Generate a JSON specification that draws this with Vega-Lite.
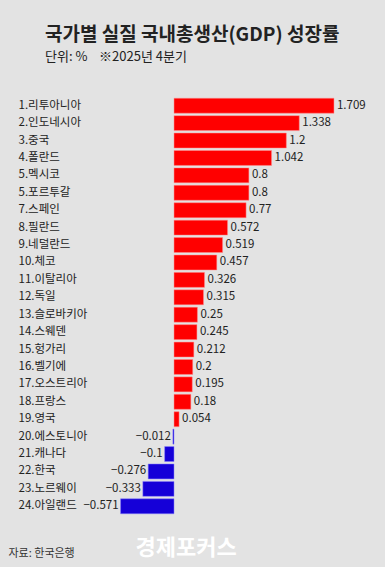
{
  "$schema": "https://vega.github.io/schema/vega-lite/v6.json",
  "width": 385,
  "height": 418,
  "autosize": "none",
  "padding": {"left": 0, "top": 97, "right": 0, "bottom": 52},
  "background": "#e3e3e3",
  "config": {
    "view": {"stroke": null},
    "font": "Noto Sans CJK KR"
  },
  "title": {
    "text": "국가별 실질 국내총생산(GDP) 성장률",
    "subtitle": "단위: %\u00a0\u00a0\u00a0\u00a0※2025년 4분기",
    "anchor": "start",
    "frame": "group",
    "dx": 45,
    "offset": 33,
    "font": "Noto Sans CJK KR",
    "fontSize": 19,
    "fontWeight": "bold",
    "color": "#222222",
    "subtitleFont": "Noto Sans CJK KR",
    "subtitleFontSize": 13,
    "subtitleColor": "#222222",
    "subtitlePadding": 6
  },
  "data": {
    "values": [
      {"country": "1.리투아니아", "value": 1.709},
      {"country": "2.인도네시아", "value": 1.338},
      {"country": "3.중국", "value": 1.2},
      {"country": "4.폴란드", "value": 1.042},
      {"country": "5.멕시코", "value": 0.8},
      {"country": "5.포르투갈", "value": 0.8},
      {"country": "7.스페인", "value": 0.77},
      {"country": "8.필란드", "value": 0.572},
      {"country": "9.네덜란드", "value": 0.519},
      {"country": "10.체코", "value": 0.457},
      {"country": "11.이탈리아", "value": 0.326},
      {"country": "12.독일", "value": 0.315},
      {"country": "13.슬로바키아", "value": 0.25},
      {"country": "14.스웨덴", "value": 0.245},
      {"country": "15.헝가리", "value": 0.212},
      {"country": "16.벨기에", "value": 0.2},
      {"country": "17.오스트리아", "value": 0.195},
      {"country": "18.프랑스", "value": 0.18},
      {"country": "19.영국", "value": 0.054},
      {"country": "20.에스토니아", "value": -0.012},
      {"country": "21.캐나다", "value": -0.1},
      {"country": "22.한국", "value": -0.276},
      {"country": "23.노르웨이", "value": -0.333},
      {"country": "24.아일랜드", "value": -0.571}
    ]
  },
  "encoding": {
    "y": {
      "field": "country",
      "type": "nominal",
      "sort": null,
      "scale": {"paddingInner": 0.14, "paddingOuter": 0.07},
      "axis": {
        "orient": "left",
        "offset": -18,
        "domain": false,
        "ticks": false,
        "grid": false,
        "labelAlign": "left",
        "labelPadding": 0,
        "labelFontSize": 11.5,
        "labelColor": "#222222",
        "labelFont": "Noto Sans CJK KR",
        "title": "경제포커스",
        "titleAngle": 0,
        "titleX": 117,
        "titleY": 450,
        "titleAlign": "left",
        "titleBaseline": "middle",
        "titleFontSize": 22,
        "titleFontWeight": "bold",
        "titleColor": "#ffffff",
        "titleFont": "Noto Sans CJK KR"
      }
    },
    "x": {
      "field": "value",
      "type": "quantitative",
      "scale": {"domain": [-1.859, 2.254], "nice": false, "zero": false},
      "axis": {
        "orient": "bottom",
        "domain": false,
        "ticks": false,
        "labels": false,
        "grid": false,
        "title": "자료: 한국은행",
        "titleX": 8,
        "titleY": 41,
        "titleAlign": "left",
        "titleBaseline": "alphabetic",
        "titleFontSize": 11,
        "titleFontWeight": "normal",
        "titleColor": "#333333",
        "titleFont": "Noto Sans CJK KR"
      }
    }
  },
  "layer": [
    {
      "mark": {"type": "bar", "strokeWidth": 1, "strokeOpacity": 0.5},
      "encoding": {
        "x2": {"datum": 0},
        "color": {
          "condition": {"test": "datum.value < 0", "value": "#1500d8"},
          "value": "#ff0000"
        },
        "stroke": {
          "condition": {"test": "datum.value < 0", "value": "#8a80ff"},
          "value": "#ff9090"
        }
      }
    },
    {
      "transform": [{"filter": "datum.value >= 0"}],
      "mark": {"type": "text", "align": "left", "baseline": "middle", "dx": 3, "fontSize": 11.5, "color": "#222222", "font": "Noto Sans CJK KR"},
      "encoding": {"text": {"field": "value", "type": "quantitative", "format": "~g"}}
    },
    {
      "transform": [{"filter": "datum.value < 0"}],
      "mark": {"type": "text", "align": "right", "baseline": "middle", "dx": -2, "fontSize": 11.5, "color": "#222222", "font": "Noto Sans CJK KR"},
      "encoding": {"text": {"field": "value", "type": "quantitative", "format": "~g"}}
    }
  ]
}
